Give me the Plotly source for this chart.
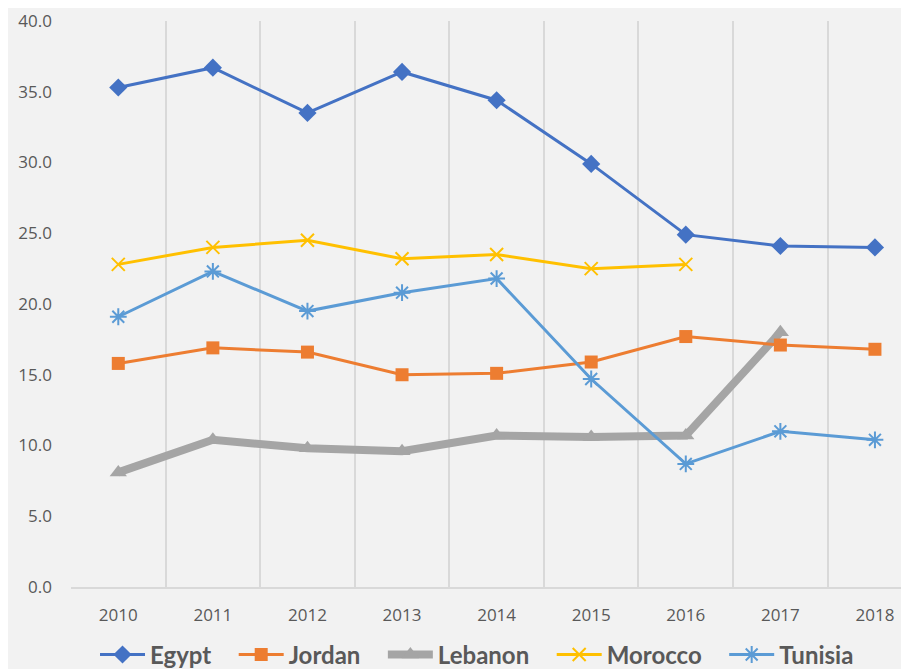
import plotly.graph_objects as go

years = ["2010", "2011", "2012", "2013", "2014", "2015", "2016", "2017", "2018"]
egypt = [35.3, 36.7, 33.5, 36.4, 34.4, 29.9, 24.9, 24.1, 24.0]
jordan = [15.8, 16.9, 16.6, 15.0, 15.1, 15.9, 17.7, 17.1, 16.8]
lebanon = [8.1, 10.4, 9.8, 9.6, 10.7, 10.6, 10.7, 18.0, None]
morocco = [22.8, 24.0, 24.5, 23.2, 23.5, 22.5, 22.8, None, None]
tunisia = [19.1, 22.3, 19.5, 20.8, 21.8, 14.7, 8.7, 11.0, 10.4]

font = "'Open Sans', Lato, sans-serif"
legend_font = "Lato, 'Open Sans', sans-serif"
grey_txt = "#595959"
pad = "\u00a0\u00a0\u00a0"

fig = go.Figure()
# Lebanon drawn first so other series sit on top of its thick line
fig.add_trace(go.Scatter(x=years, y=lebanon, name="Lebanon" + pad, mode="lines+markers",
                         legendrank=3,
                         line=dict(color="#A5A5A5", width=8),
                         marker=dict(symbol="triangle-up", size=15, color="#A5A5A5")))
fig.add_trace(go.Scatter(x=years, y=egypt, name="Egypt" + pad, mode="lines+markers",
                         legendrank=1,
                         line=dict(color="#4472C4", width=3),
                         marker=dict(symbol="diamond", size=14, color="#4472C4")))
fig.add_trace(go.Scatter(x=years, y=jordan, name="Jordan" + pad, mode="lines+markers",
                         legendrank=2,
                         line=dict(color="#ED7D31", width=3),
                         marker=dict(symbol="square", size=13, color="#ED7D31")))
fig.add_trace(go.Scatter(x=years, y=morocco, name="Morocco" + pad, mode="lines+markers",
                         legendrank=4,
                         line=dict(color="#FFC000", width=3),
                         marker=dict(symbol="x-thin-open", size=13,
                                     line=dict(color="#FFC000", width=2))))
fig.add_trace(go.Scatter(x=years, y=tunisia, name="Tunisia", mode="lines+markers",
                         legendrank=5,
                         line=dict(color="#5B9BD5", width=3),
                         marker=dict(symbol="asterisk-open", size=14,
                                     line=dict(color="#5B9BD5", width=2))))

fig.update_layout(
    width=909, height=669,
    margin=dict(l=63, r=8, t=13, b=90, autoexpand=False),
    paper_bgcolor="#f2f2f2", plot_bgcolor="#f2f2f2",
    font=dict(family=font, color=grey_txt),
    showlegend=True,
    legend=dict(orientation="h", x=0.4845, xanchor="center", y=-0.12, yanchor="middle",
                font=dict(family=legend_font, size=24, color=grey_txt, weight="bold"),
                itemwidth=45, tracegroupgap=0, bgcolor="rgba(0,0,0,0)",
                traceorder="normal"),
    xaxis=dict(type="category", range=[-0.5, 8.36], tickson="boundaries",
               showgrid=True, gridcolor="#d9d9d9", gridwidth=1.5,
               showline=True, linecolor="#d9d9d9", linewidth=1.5,
               ticks="", tickfont=dict(size=17, color=grey_txt),
               ticklabelstandoff=12, zeroline=False, automargin=False),
    yaxis=dict(range=[0, 40], dtick=5, tickformat=".1f", showgrid=False,
               zeroline=False, showline=False, ticks="",
               tickfont=dict(size=17, color=grey_txt), ticklabelstandoff=18,
               automargin=False),
)

fig.write_html("out.html")
